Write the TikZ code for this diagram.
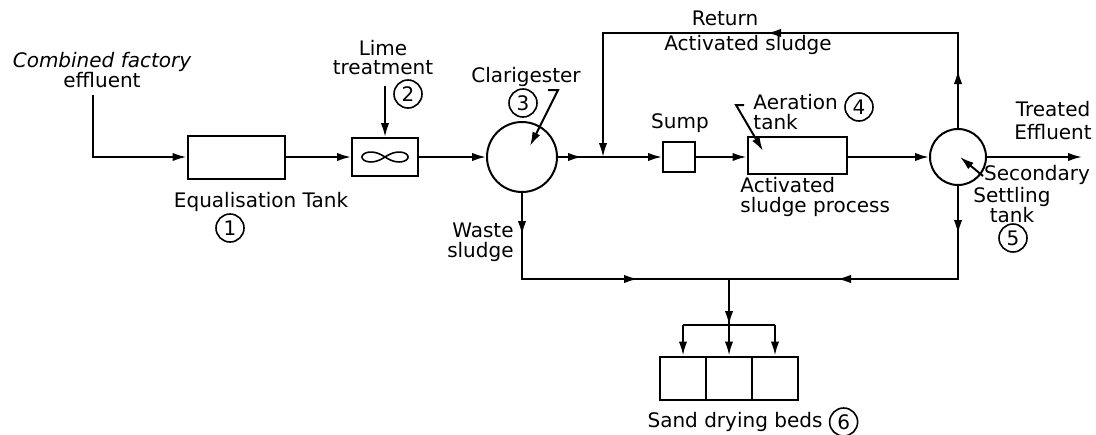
\documentclass[tikz,border=0pt]{standalone}
\usepackage{fontspec}
\setmainfont{DejaVu Sans}
\usetikzlibrary{positioning,arrows.meta,decorations.markings}
\tikzset{
  tank/.style={draw, line width=1pt, inner sep=0pt},
  drum/.style={draw, circle, line width=1pt, inner sep=0pt},
  num/.style={draw, circle, line width=0.8pt, inner sep=0pt, minimum size=14pt,
              font=\fontsize{10}{10}\selectfont},
  lbl/.style={inner sep=0pt, font=\fontsize{10}{10}\selectfont},
  ln/.style={line width=1pt},
  ar/.style={-{Latex[length=7pt,width=4.2pt]}, line width=1pt},
  tipat/.style={postaction={decorate, decoration={markings,
      mark=at position #1 with {\arrow{Latex[length=7pt,width=4.2pt]}}}}},
}

\begin{document}
\begin{tikzpicture}[x=0.5pt, y=-0.5pt]
  \useasboundingbox (0,0) rectangle (1096,434);
  \node[tank, minimum width=48.5pt, minimum height=21.5pt] (eq) at (236,157) {};
  \node[tank, minimum width=33pt, minimum height=19pt] (lime) at (385,157) {};
  \node[drum, minimum size=35pt] (clar) at (522,157) {};
  \node[tank, minimum width=16pt, minimum height=15pt] (sump) at (679,157) {};
  \node[tank, minimum width=49.5pt, minimum height=18.5pt] (aer) at (797,155) {};
  \node[drum, minimum size=28pt] (sec) at (958,157) {};
  \node[tank, minimum width=23pt, minimum height=21.5pt] (bed2) at (729,378) {};
  \node[tank, minimum width=23pt, minimum height=21.5pt, left=-1pt of bed2] (bed1) {};
  \node[tank, minimum width=23pt, minimum height=21.5pt, right=-1pt of bed2] (bed3) {};
  \draw[line width=0.8pt, shift={(lime.center)}] plot[domain=0:360, samples=73]
    ({23*cos(\x)/(1+sin(\x)^2)}, {14*sin(\x)*cos(\x)/(1+sin(\x)^2)});

  \node[lbl, align=center] (cfe) at (102,70) {\itshape Combined factory\\effluent};
  \node[lbl] (eqt) at (261,202) {Equalisation Tank};
  \node[num] (n1) at (230,228) {1};
  \node[lbl, align=center, font=\fontsize{10}{9.5}\selectfont] (limet) at (383,58) {Lime\\treatment};
  \node[num] (n2) at (408,94) {2};
  \node[lbl] (clart) at (526,77) {Clarigester};
  \node[num] (n3) at (523,103) {3};
  \node[lbl] (sumpt) at (680,123) {Sump};
  \node[lbl, align=left, anchor=west] (aert) at (753,112) {Aeration\\tank};
  \node[num] (n4) at (859,107) {4};
  \node[lbl, align=left, anchor=west] (asp) at (740,197) {Activated\\sludge process};
  \node[lbl] (ret) at (725,18) {Return};
  \node[lbl] (rets) at (748,45) {Activated sludge};
  \node[lbl, align=center] (treat) at (1053,121) {Treated\\[1.5pt]Effluent};
  \node[lbl] (secn) at (1037,175) {Secondary};
  \node[lbl, align=center] (sett) at (1012,205) {Settling\\tank};
  \node[num] (n5) at (1013,238) {5};
  \node[lbl, align=right, anchor=east] (waste) at (514,242) {Waste\\sludge};
  \node[lbl] (sdb) at (735,422) {Sand drying beds};
  \node[num, right=3pt of sdb] (n6) {6};

  \coordinate (src) at (93,95);
  \coordinate (limein) at (385,86);
  \coordinate (j) at (603,157);
  \coordinate (out) at (1082,157);
  \coordinate (rr) at (958,33);
  \coordinate (rl) at (603,33);
  \coordinate (drop) at (729,279);
  \coordinate (bar) at (729,325);
  \coordinate (cp0) at (548,90);
  \coordinate (cp1) at (558,90);
  \coordinate (cp2) at (530,146);
  \coordinate (ap0) at (744,105);
  \coordinate (ap1) at (736,105);
  \coordinate (ap2) at (763,151);
  \coordinate (sp0) at (983,176);
  \coordinate (sp1) at (960,157);

  \draw[ar] (src) |- (eq);
  \draw[ar] (eq) -- (lime);
  \draw[ar] (limein) -- (lime);
  \draw[ar] (lime) -- (clar);
  \draw[ln, tipat=12pt] (clar) -- (j);
  \draw[ar] (j) -- (sump);
  \draw[ar] (sump) -- (aer.west |- sump);
  \draw[ar] (aer.east |- sec) -- (sec);
  \draw[ar] (sec) -- (out);
  \draw[ar, tipat=29pt, tipat=143pt] (sec.north) -- (rr) -- (rl) -- (j);
  \draw[ln, tipat=24pt, tipat=107pt] (sec.south) -- (sec.south |- drop) -- (drop);
  \draw[ln, tipat=21pt, tipat=101pt] (clar.south) -- (clar.south |- drop) -- (drop);
  \draw[ar, tipat=23pt] (drop) -- (bed2);
  \draw[ln] (bed1.north |- bar) -- (bed3.north |- bar);
  \draw[ar] (bed1.north |- bar) -- (bed1);
  \draw[ar] (bed3.north |- bar) -- (bed3);
  \draw[ar] (cp0) -- (cp1) -- (cp2);
  \draw[ar] (ap0) -- (ap1) -- (ap2);
  \draw[ar] (sp0) -- (sp1);
\end{tikzpicture}
\end{document}
